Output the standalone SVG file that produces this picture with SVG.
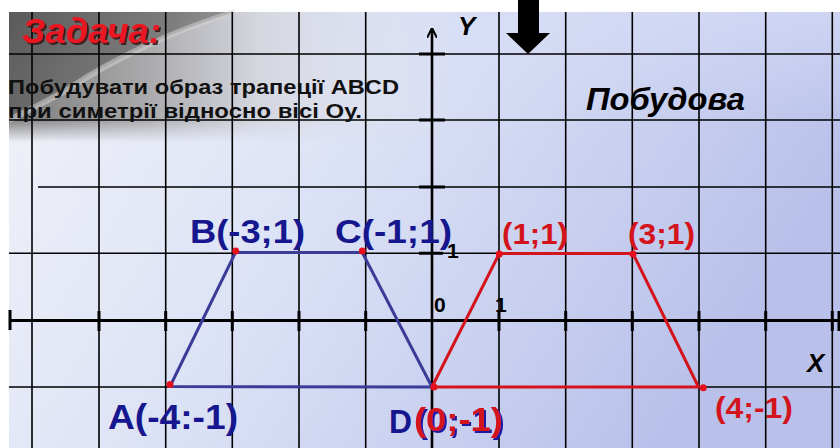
<svg xmlns="http://www.w3.org/2000/svg" width="840" height="448" viewBox="0 0 840 448">
<defs>
<linearGradient id="bg" x1="0" y1="0" x2="1" y2="0.35">
<stop offset="0" stop-color="#f2f3f8"/>
<stop offset="0.45" stop-color="#dde3f6"/>
<stop offset="1" stop-color="#b9c1ea"/>
</linearGradient>
<linearGradient id="bgTop" x1="0" y1="0" x2="0" y2="1">
<stop offset="0" stop-color="#d6dcf6" stop-opacity="0.6"/>
<stop offset="1" stop-color="#d6dcf6" stop-opacity="0"/>
</linearGradient>
<linearGradient id="greyH" x1="0" y1="0" x2="1" y2="0">
<stop offset="0" stop-color="#7c7c7c"/>
<stop offset="0.3" stop-color="#a9a9ab"/>
<stop offset="0.55" stop-color="#d4d6de"/>
<stop offset="1" stop-color="#e4e7f2" stop-opacity="0"/>
</linearGradient>
<linearGradient id="fadeV" x1="0" y1="0" x2="0" y2="1">
<stop offset="0" stop-color="#fff"/>
<stop offset="0.82" stop-color="#fff"/>
<stop offset="1" stop-color="#000"/>
</linearGradient>
<mask id="m1" maskUnits="userSpaceOnUse" x="9" y="12" width="450" height="130">
<rect x="9" y="12" width="450" height="130" fill="url(#fadeV)"/>
</mask>
<linearGradient id="dark" x1="0" y1="0" x2="1" y2="0.3">
<stop offset="0" stop-color="#5a5a5a"/>
<stop offset="0.7" stop-color="#7e7e7e"/>
<stop offset="1" stop-color="#9c9c9c"/>
</linearGradient>
<marker id="arr" viewBox="0 0 10 10" refX="9" refY="5" markerWidth="4" markerHeight="4" orient="auto">
<path d="M0,0 L10,5 L0,10" fill="none" stroke="#000" stroke-width="2"/>
</marker>
<filter id="shTitle" x="-10%" y="-20%" width="130%" height="150%">
<feDropShadow dx="2" dy="2" stdDeviation="0.6" flood-color="#3a1212" flood-opacity="0.9"/>
</filter>
<filter id="shBlue" x="-10%" y="-20%" width="130%" height="150%">
<feDropShadow dx="2" dy="2" stdDeviation="0.3" flood-color="#1a1aa0" flood-opacity="1"/>
</filter>
</defs>
<style>
.grid{stroke:#000;stroke-width:1.6;fill:none}
.axis{stroke:#000;stroke-width:3;fill:none}
.tick{stroke:#000;stroke-width:3}
.blue{stroke:#3b3b98;stroke-width:3;fill:none;stroke-linejoin:round}
.red{stroke:#d4141c;stroke-width:3;fill:none;stroke-linejoin:round}
.dot{fill:#e4101e}
.lb{font-family:"Liberation Sans",Arial,sans-serif;font-weight:bold;fill:#16168e}
.lr{font-family:"Liberation Sans",Arial,sans-serif;font-weight:bold;fill:#d4141c}
.num{font-family:"Liberation Sans",Arial,sans-serif;font-weight:bold;fill:#000;font-size:21px}
.it{font-family:"Liberation Sans",Arial,sans-serif;font-weight:bold;font-style:italic;fill:#000}
.task{font-family:"Liberation Sans",Arial,sans-serif;font-weight:bold;fill:#111;font-size:21px}
</style>
<rect x="0" y="0" width="840" height="448" fill="#ffffff"/>
<g id="background">
<rect x="9" y="12" width="831" height="436" fill="url(#bg)"/>
<rect x="200" y="12" width="640" height="110" fill="url(#bgTop)"/>
<rect x="9" y="12" width="450" height="130" fill="url(#greyH)" mask="url(#m1)"/>
<path d="M9,12 H235 C175,30 115,58 70,88 C50,100 25,112 9,120 Z" fill="url(#dark)"/>
<path d="M235,12 C175,30 115,58 70,88 C50,100 25,112 9,120" fill="none" stroke="#d2d2d2" stroke-width="6" opacity="0.55"/>
</g>
<g id="grid">
<path class="grid" d="M32,12V448 M99,12V448 M165.7,12V448 M232.3,12V448 M299,12V448 M365.7,12V448 M499,12V448 M565.7,12V448 M632.3,12V448 M699,12V448 M765.7,12V448 M832.3,12V448"/>
<path class="grid" d="M9,54H840 M9,120H840 M38,187H840 M9,253.3H840 M9,387H840"/>
</g>
<g id="axes">
<path class="axis" d="M9,320.5H840"/>
<path class="tick" d="M10,310V330 M99,311V331 M165.7,311V331 M232.3,311V331 M299,311V331 M365.7,311V331 M499,311V331 M565.7,311V331 M632.3,311V331 M699,311V331 M765.7,311V331 M832.3,311V331 M839,311V331"/>
<path d="M432,448V29" stroke="#000" stroke-width="2.6" marker-end="url(#arr)"/>
<path class="tick" d="M419,54H445 M419,120H445 M419,187H445 M419,253.3H443"/>
</g>
<g id="down-arrow">
<path d="M518,0H539V33H550L528,54L506,33H518Z" fill="#000"/>
</g>
<g id="title">
<text x="22" y="43" font-family="Liberation Sans,Arial,sans-serif" font-weight="bold" font-style="italic" font-size="35" fill="#ec1620" filter="url(#shTitle)" textLength="139" lengthAdjust="spacingAndGlyphs">Задача:</text>
</g>
<g id="task">
<text class="task" x="8" y="94" textLength="391" lengthAdjust="spacingAndGlyphs">Побудувати образ трапеції ABCD</text>
<text class="task" x="8" y="118" textLength="354" lengthAdjust="spacingAndGlyphs">при симетрії відносно вісі Оу.</text>
</g>
<g id="heading">
<text class="it" x="586" y="110" font-size="31" textLength="159" lengthAdjust="spacingAndGlyphs">Побудова</text>
</g>
<g id="axis-labels">
<text class="it" x="458" y="35" font-size="26">Y</text>
<text class="it" x="807" y="372" font-size="26">X</text>
<text class="num" x="447" y="258">1</text>
<text class="num" x="434" y="312">0</text>
<text class="num" x="495" y="312">1</text>
</g>
<g id="connectors">
<path class="blue" d="M170,386.5 L235.5,252.5 H362.3 L432,387 Z"/>
<path class="red" d="M432,387 L499.3,253.5 H633 L698.5,387 Z"/>
</g>
<g id="points">
<circle class="dot" cx="170" cy="384.5" r="3.5"/>
<circle class="dot" cx="235.7" cy="251" r="3.5"/>
<circle class="dot" cx="362.3" cy="251" r="3.5"/>
<circle class="dot" cx="434" cy="387" r="3.5"/>
<circle class="dot" cx="499.3" cy="254" r="3.5"/>
<circle class="dot" cx="633" cy="254" r="3.5"/>
<circle class="dot" cx="703.3" cy="387.7" r="3.5"/>
</g>
<g id="label-A"><text class="lb" x="108" y="429" font-size="35" textLength="130" lengthAdjust="spacingAndGlyphs">A(-4:-1)</text></g>
<g id="label-B"><text class="lb" x="190" y="243" font-size="33" textLength="115" lengthAdjust="spacingAndGlyphs">B(-3;1)</text></g>
<g id="label-C"><text class="lb" x="335" y="243" font-size="33" textLength="117" lengthAdjust="spacingAndGlyphs">C(-1;1)</text></g>
<g id="label-D">
<text class="lb" x="389" y="433" font-size="34" textLength="23" lengthAdjust="spacingAndGlyphs">D</text>
<text class="lr" x="414" y="431" font-size="34" textLength="89" lengthAdjust="spacingAndGlyphs" filter="url(#shBlue)">(0;-1)</text>
</g>
<g id="label-1-1"><text class="lr" x="502" y="244" font-size="29" textLength="66" lengthAdjust="spacingAndGlyphs">(1;1)</text></g>
<g id="label-3-1"><text class="lr" x="628" y="244" font-size="29" textLength="67" lengthAdjust="spacingAndGlyphs">(3;1)</text></g>
<g id="label-4-1"><text class="lr" x="715" y="418" font-size="30" textLength="78" lengthAdjust="spacingAndGlyphs">(4;-1)</text></g>
</svg>
